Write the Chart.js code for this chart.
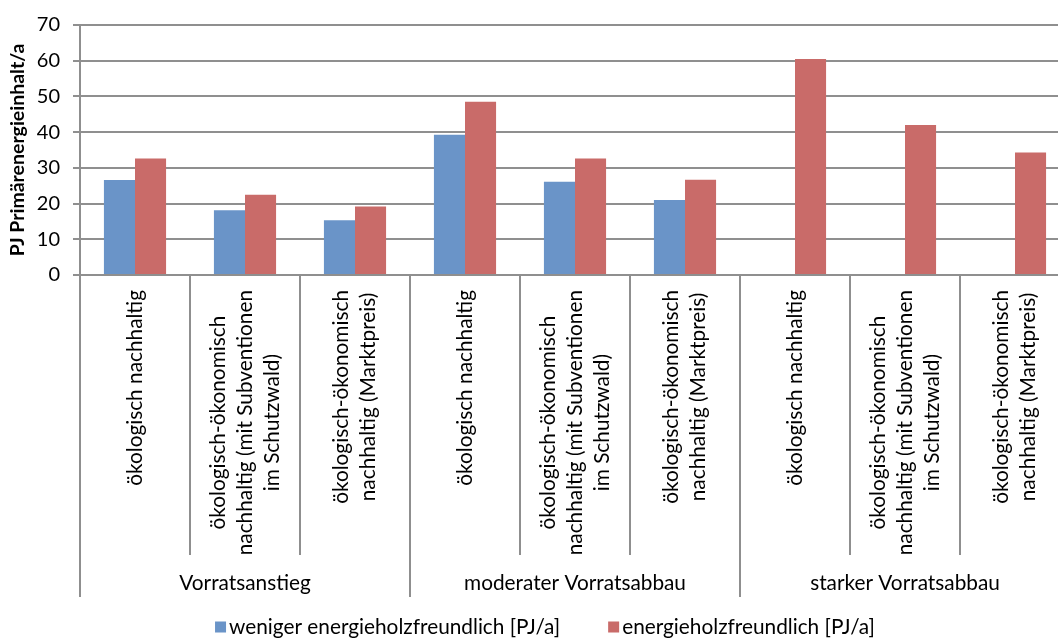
<!DOCTYPE html>
<html>
<head>
<meta charset="utf-8">
<script src="https://cdn.jsdelivr.net/npm/chart.js@4/dist/chart.umd.min.js"></script>
<style>
  html, body { margin: 0; padding: 0; background: #fff; overflow: hidden; }
  #wrap { width: 1072px; height: 638px; }
</style>
</head>
<body>
<div id="wrap"><canvas id="myChart" width="1072" height="638"></canvas></div>
<script>
const categories = [
  ['ökologisch nachhaltig'],
  ['ökologisch-ökonomisch', 'nachhaltig (mit Subventionen', 'im Schutzwald)'],
  ['ökologisch-ökonomisch', 'nachhaltig (Marktpreis)'],
  ['ökologisch nachhaltig'],
  ['ökologisch-ökonomisch', 'nachhaltig (mit Subventionen', 'im Schutzwald)'],
  ['ökologisch-ökonomisch', 'nachhaltig (Marktpreis)'],
  ['ökologisch nachhaltig'],
  ['ökologisch-ökonomisch', 'nachhaltig (mit Subventionen', 'im Schutzwald)'],
  ['ökologisch-ökonomisch', 'nachhaltig (Marktpreis)']
];
const groups = ['Vorratsanstieg', 'moderater Vorratsabbau', 'starker Vorratsabbau'];
const groupSize = 3;

const seriesNames = ['weniger energieholzfreundlich [PJ/a]', 'energieholzfreundlich [PJ/a]'];
const wenigerValues = [26.6, 18.1, 15.3, 39.3, 26.1, 21.0, null, null, null];
const energieValues = [32.6, 22.5, 19.2, 48.5, 32.6, 26.7, 60.5, 42.0, 34.3];

const FONT = 'Lato, "Open Sans", sans-serif';
const TEXT_SIZE = 20.8;
const GRID = '#8f8f8f';

// rotated category labels, group labels, separators and the legend row
const axisLabels = {
  id: 'axisLabels',
  afterDraw(chart) {
    const { ctx, chartArea } = chart;
    const x = chart.scales.x;
    const base = chartArea.bottom;
    const n = categories.length;
    const edge = i => i === 0 ? chartArea.left : i === n ? chartArea.right
      : (x.getPixelForValue(i - 1) + x.getPixelForValue(i)) / 2;

    ctx.save();
    ctx.strokeStyle = GRID;
    ctx.lineWidth = 2;
    for (let i = 0; i <= n; i++) {
      const end = i % groupSize === 0 ? base + 322 : base + 280;
      const px = Math.round(edge(i));
      ctx.beginPath();
      ctx.moveTo(px, base);
      ctx.lineTo(px, end);
      ctx.stroke();
    }

    ctx.fillStyle = '#000';
    ctx.font = TEXT_SIZE + 'px ' + FONT;
    ctx.textAlign = 'center';
    ctx.textBaseline = 'middle';
    const lineH = 27;
    categories.forEach((lines, i) => {
      const maxW = Math.max(...lines.map(l => ctx.measureText(l).width));
      const cx = x.getPixelForValue(i);
      const cy = base + 15 + maxW / 2;
      ctx.save();
      ctx.translate(cx, cy);
      ctx.rotate(-Math.PI / 2);
      lines.forEach((l, j) => {
        ctx.fillText(l, 0, (j - (lines.length - 1) / 2) * lineH);
      });
      ctx.restore();
    });

    groups.forEach((g, k) => {
      const gx = (edge(k * groupSize) + edge((k + 1) * groupSize)) / 2;
      ctx.fillText(g, gx, base + 308);
    });

    // legend
    const box = 11, gap = 3, itemGap = 48;
    const items = chart.data.datasets.map(ds => ({
      text: ds.label, color: ds.backgroundColor, w: box + gap + ctx.measureText(ds.label).width
    }));
    const total = items.reduce((s, it) => s + it.w, 0) + itemGap * (items.length - 1);
    let lx = 545 - total / 2;
    const ly = 627;
    ctx.textAlign = 'left';
    items.forEach(it => {
      ctx.fillStyle = it.color;
      ctx.fillRect(lx, ly - box / 2, box, box);
      ctx.fillStyle = '#000';
      ctx.fillText(it.text, lx + box + gap, ly);
      lx += it.w + itemGap;
    });
    ctx.restore();
  }
};

const ctx = document.getElementById('myChart').getContext('2d');
new Chart(ctx, {
  type: 'bar',
  data: {
    labels: categories.map(c => c.join(' ')),
    datasets: [
      {
        label: seriesNames[0],
        data: wenigerValues,
        backgroundColor: '#6a94c8',
        borderWidth: 0
      },
      {
        label: seriesNames[1],
        data: energieValues,
        backgroundColor: '#c96b69',
        borderWidth: 0
      }
    ]
  },
  options: {
    responsive: false,
    animation: false,
    layout: { padding: { top: 20, right: 2, left: 0, bottom: 0 } },
    datasets: {
      bar: { categoryPercentage: 0.565, barPercentage: 1.0 }
    },
    scales: {
      x: {
        ticks: { display: false },
        grid: { display: false },
        border: { display: false },
        afterFit: scale => { scale.height = 363; }
      },
      y: {
        min: 0,
        max: 70,
        ticks: {
          stepSize: 10,
          color: '#000',
          padding: 13,
          font: { family: FONT, size: 20 }
        },
        grid: { color: GRID, lineWidth: 2, tickLength: 7 },
        border: { color: GRID, width: 2 },
        title: {
          display: true,
          text: 'PJ Primärenergieinhalt/a',
          color: '#000',
          font: { family: FONT, size: 19.5, weight: 'bold' },
          padding: { top: 6, bottom: 4 }
        },
        afterFit: scale => { scale.width = 80; }
      }
    },
    plugins: {
      legend: { display: false },
      tooltip: { enabled: false }
    }
  },
  plugins: [axisLabels]
});
</script>
</body>
</html>
